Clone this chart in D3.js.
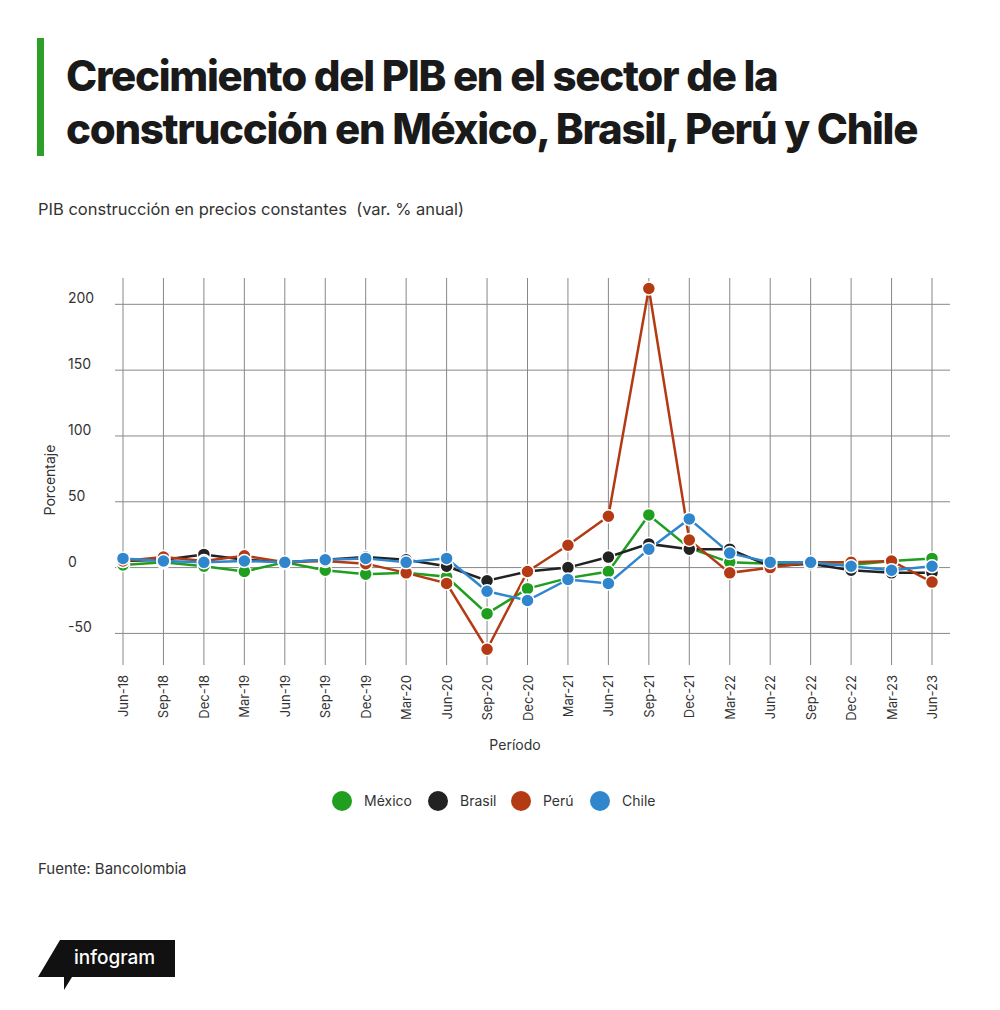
<html>
<script src="https://d3js.org/d3.v7.min.js"></script>
<body style="margin:0;background:#fff">
<div id="chart"></div>
<script>
var periods = ["Jun-18","Sep-18","Dec-18","Mar-19","Jun-19","Sep-19","Dec-19","Mar-20","Jun-20","Sep-20","Dec-20","Mar-21","Jun-21","Sep-21","Dec-21","Mar-22","Jun-22","Sep-22","Dec-22","Mar-23","Jun-23"];
var mexico = [2,4,1,-3,4,-2,-5,-4,-7,-35,-16,-8,-3,40,15,4,3,3,2,5,7];
var brasil = [5,6,10,6,4,6,8,6,1,-10,-3,0,8,18,14,14,1,3,-2,-4,-4];
var peru = [5,8,5,9,4,5,3,-4,-12,-62,-3,17,39,212,21,-4,0,4,4,5,-11];
var chile = [7,5,4,5,4,6,7,4,7,-18,-25,-9,-12,14,37,11,4,4,1,-2,1];
var yTicks = [-50,0,50,100,150,200];

var series = [
  {name:"México", color:"#1f9e1f", values:mexico},
  {name:"Brasil", color:"#222222", values:brasil},
  {name:"Perú", color:"#b33a12", values:peru},
  {name:"Chile", color:"#2f86cc", values:chile}
];

var svg = d3.select("#chart").append("svg").attr("width",1000).attr("height",1010)
  .style("font-family","Inter, 'Open Sans', sans-serif");

// title
svg.append("rect").attr("x",37).attr("y",38).attr("width",7).attr("height",118).attr("fill","#2ea02a");
svg.append("text").attr("x",66).attr("y",91).text("Crecimiento del PIB en el sector de la")
  .attr("font-size",42).attr("font-weight",800).attr("fill","#1a1a1a").attr("letter-spacing",-1.3);
svg.append("text").attr("x",66).attr("y",144).text("construcción en México, Brasil, Perú y Chile")
  .attr("font-size",42).attr("font-weight",800).attr("fill","#1a1a1a").attr("letter-spacing",-1.3);
svg.append("text").attr("x",38).attr("y",215).text("PIB construcción en precios constantes  (var. % anual)")
  .attr("font-size",16.5).attr("fill","#333").attr("letter-spacing",0).style("white-space","pre");

var x = d3.scalePoint().domain(periods).range([123,932]);
var y = d3.scaleLinear().domain([-74,220]).range([665,278]);

var g = svg.append("g");
// grid
g.selectAll(".vl").data(periods).enter().append("line")
  .attr("x1",d=>x(d)).attr("x2",d=>x(d)).attr("y1",278).attr("y2",665)
  .attr("stroke","#888").attr("stroke-width",1);
g.selectAll(".hl").data(yTicks).enter().append("line")
  .attr("x1",115).attr("x2",950).attr("y1",d=>y(d)).attr("y2",d=>y(d))
  .attr("stroke","#888").attr("stroke-width",1);
g.selectAll(".yt").data(yTicks).enter().append("text")
  .attr("x",68).attr("y",d=>y(d)-1).text(d=>d).attr("font-size",14).attr("fill","#333");

// x labels
g.selectAll(".xt").data(periods).enter().append("text")
  .attr("transform",d=>"translate("+(x(d)+5)+",675) rotate(-90)")
  .attr("text-anchor","end").text(d=>d).attr("font-size",13).attr("fill","#333");

svg.append("text").attr("transform","translate(55,480) rotate(-90)").attr("text-anchor","middle")
  .text("Porcentaje").attr("font-size",14).attr("fill","#333");
svg.append("text").attr("x",515).attr("y",750).attr("text-anchor","middle")
  .text("Período").attr("font-size",14).attr("fill","#333");

var line = d3.line().x((d,i)=>x(periods[i])).y(d=>y(d));
series.forEach(function(s){
  g.append("path").attr("d",line(s.values)).attr("fill","none").attr("stroke",s.color).attr("stroke-width",2.5);
});
series.forEach(function(s){
  g.selectAll(null).data(s.values).enter().append("circle")
    .attr("cx",(d,i)=>x(periods[i])).attr("cy",d=>y(d)).attr("r",6.5)
    .attr("fill",s.color).attr("stroke","#fff").attr("stroke-width",1.5);
});

// legend
var lx = [342,438,521,600];
series.forEach(function(s,i){
  svg.append("circle").attr("cx",lx[i]).attr("cy",801).attr("r",10).attr("fill",s.color);
  svg.append("text").attr("x",lx[i]+22).attr("y",806).text(s.name).attr("font-size",14).attr("fill","#333");
});

svg.append("text").attr("x",38).attr("y",874).text("Fuente: Bancolombia").attr("font-size",15).attr("fill","#333");

// logo
svg.append("path").attr("d","M60,940 L175,940 L175,977 L72,977 L64,990 L64,977 L38,977 Z").attr("fill","#111");
svg.append("text").attr("x",74).attr("y",964).text("infogram").attr("font-size",19).attr("fill","#fff").attr("font-weight",500);
</script>
</body>
</html>
